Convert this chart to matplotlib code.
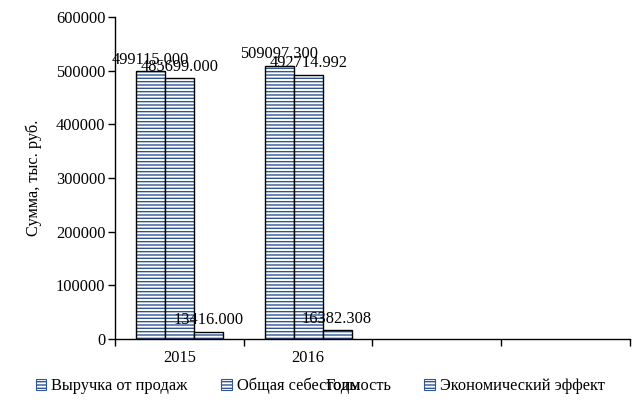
import numpy as np
import matplotlib.pyplot as plt
from matplotlib.patches import Patch

plt.rcParams['font.family'] = ['Liberation Serif', 'DejaVu Serif']
plt.rcParams['hatch.linewidth'] = 1.0

# data
categories = ['2015', '2016', '', '']
series_names = ['Выручка от продаж', 'Общая себестоимость', 'Экономический эффект']
revenue = [499115.000, 509097.300]
cost = [485699.000, 492714.992]
effect = [13416.000, 16382.308]
value_labels = [['499115.000', '509097.300'],
                ['485699.000', '492714.992'],
                ['13416.000', '16382.308']]

hatch_col = '#2f5597'
fs = 11.8

fig = plt.figure(figsize=(6.43, 4.16), dpi=100)
ax = fig.add_axes([115/643, 1-339/416, (630-115)/643, (339-17)/416])

x = np.arange(len(revenue))
w = 0.225
offsets = [-w, 0, w]
for series, off, labs in zip([revenue, cost, effect], offsets, value_labels):
    # hatch layer in blue, outline in black on top
    ax.bar(x + off, series, w, color='white', edgecolor=hatch_col, hatch='-----', lw=0)
    bars = ax.bar(x + off, series, w, facecolor='none', edgecolor='black', lw=1)
    for b, lab in zip(bars, labs):
        ax.annotate(lab, (b.get_x() + b.get_width()/2, b.get_height()),
                    textcoords='offset points', xytext=(0, 2.5),
                    ha='center', va='bottom', fontsize=fs)

ax.set_xlim(-0.5, len(categories) - 0.5)
ax.set_ylim(0, 600000)
ax.set_yticks(np.arange(0, 600001, 100000))
ax.set_xticks(np.arange(-0.5, len(categories), 1.0))
ax.set_xticklabels([])
ax.set_xticks(np.arange(len(categories)), minor=True)
ax.set_xticklabels(categories, minor=True, fontsize=fs)
ax.tick_params(axis='x', which='minor', length=0, pad=8)
ax.tick_params(axis='x', which='major', length=5, direction='out', width=1)
ax.tick_params(axis='y', length=5, direction='out', width=1, labelsize=fs, pad=2)

for s in ['top', 'right']:
    ax.spines[s].set_visible(False)
ax.spines['left'].set_linewidth(1)
ax.spines['bottom'].set_linewidth(1)

ax.set_ylabel('Сумма, тыс. руб.', fontsize=fs, labelpad=10)

handles = [Patch(facecolor='white', edgecolor=hatch_col, hatch='-----', lw=0.8)
           for _ in series_names]
fig.legend(handles, series_names, loc='center', bbox_to_anchor=(0.498, 1-386/416),
           ncol=3, frameon=False, fontsize=fs, handlelength=0.65, handleheight=0.65,
           handletextpad=0.3, columnspacing=2.05)
fig.text(343/643, 1-386/416, 'Годы', ha='center', va='center', fontsize=fs)

plt.savefig('out.png', dpi=100)
